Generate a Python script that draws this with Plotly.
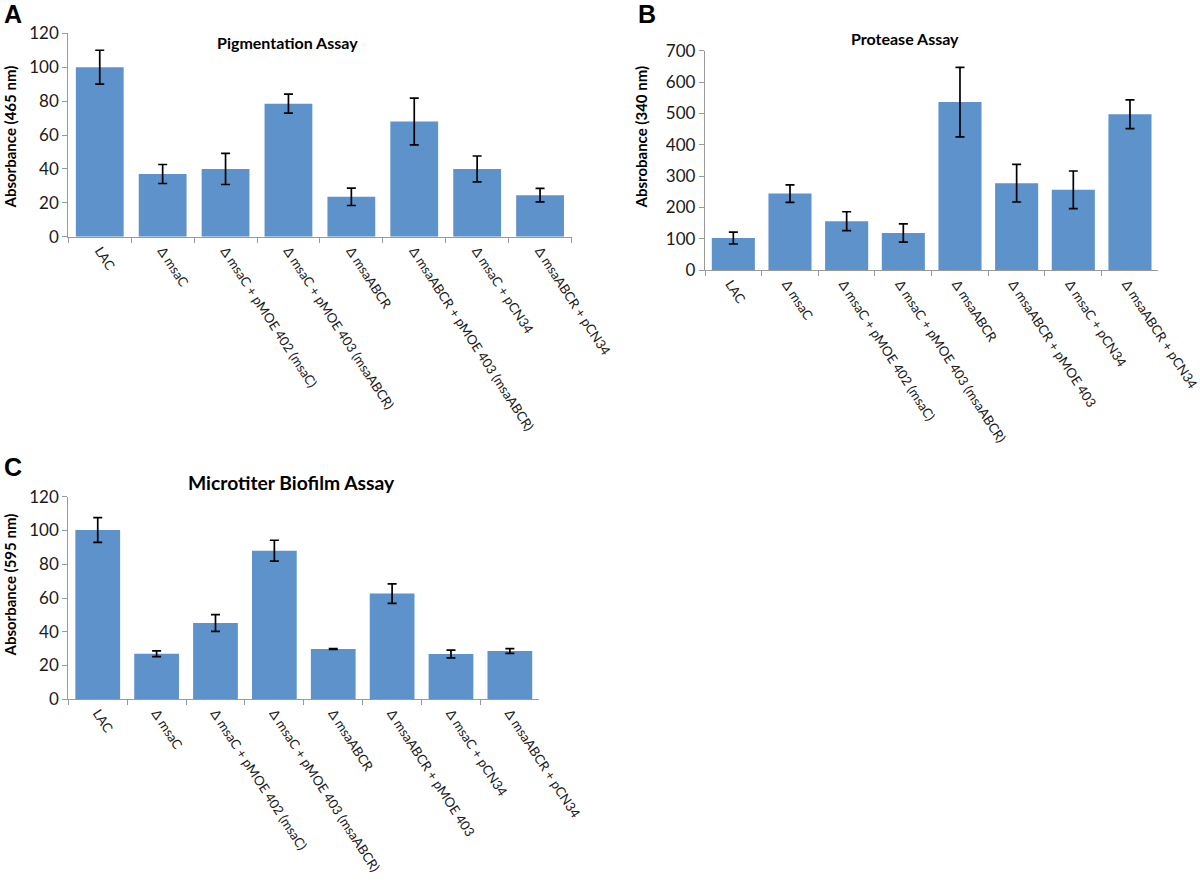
import plotly.graph_objects as go

# ---- data ----
labels_a = ["LAC", "Δ msaC", "Δ msaC + pMOE 402 (msaC)", "Δ msaC + pMOE 403 (msaABCR)",
            "Δ msaABCR", "Δ msaABCR + pMOE 403 (msaABCR)", "Δ msaC + pCN34", "Δ msaABCR + pCN34"]
labels_bc = ["LAC", "Δ msaC", "Δ msaC + pMOE 402 (msaC)", "Δ msaC + pMOE 403 (msaABCR)",
             "Δ msaABCR", "Δ msaABCR + pMOE 403", "Δ msaC + pCN34", "Δ msaABCR + pCN34"]

pigment_vals = [100, 37, 40, 78.5, 23.5, 68, 40, 24.5]
pigment_err = [10, 5.6, 9.2, 5.6, 5.1, 13.8, 7.6, 4.0]

protease_vals = [102, 244, 156, 118, 536, 277, 256, 497]
protease_err = [19, 28, 30, 29, 111, 60, 60, 46]

biofilm_vals = [100.3, 27, 45.2, 88, 29.8, 62.6, 26.8, 28.6]
biofilm_err = [7.3, 1.7, 5.0, 6.2, 0.3, 5.8, 2.3, 1.4]

W, H = 1200, 892
BAR = "#5D92CA"
FONT = "Lato"
AXC = "#9a9a9a"

def px(x):
    return x / W

def py(y):
    return 1 - y / H

fig = go.Figure()

panels = [
    ("x", "y", labels_a, pigment_vals, pigment_err),
    ("x2", "y2", labels_bc, protease_vals, protease_err),
    ("x3", "y3", labels_bc, biofilm_vals, biofilm_err),
]
for xa, ya, lab, vals, err in panels:
    fig.add_trace(go.Bar(
        x=lab, y=vals, xaxis=xa, yaxis=ya, marker_color=BAR, marker_line_width=0,
        error_y=dict(type="data", array=err, visible=True, color="black", thickness=1.7, width=4.5),
        showlegend=False, hoverinfo="skip",
    ))

def xaxis_cfg(x0, x1, anchor, shift=0):
    return dict(domain=[px(x0), px(x1)], anchor=anchor, showline=True, linecolor=AXC, linewidth=1.3,
                ticks="outside", tickson="boundaries", ticklen=5, tickcolor=AXC, automargin=False,
                tickangle=57, tickfont=dict(family=FONT, size=13.2, color="#1a1a1a"),
                ticklabelshift=shift, showgrid=False, zeroline=False)

def yaxis_cfg(top, bottom, rng, dtick, anchor):
    return dict(domain=[py(bottom), py(top)], anchor=anchor, range=rng, dtick=dtick,
                showline=True, linecolor=AXC, linewidth=1.3, ticks="outside", ticklen=5,
                tickcolor=AXC, tickfont=dict(family=FONT, size=17, color="#1a1a1a"), automargin=False,
                showgrid=False, zeroline=False)

fig.update_layout(
    width=W, height=H, margin=dict(l=0, r=0, t=0, b=0),
    plot_bgcolor="white", paper_bgcolor="white", bargap=0.24,
    xaxis=xaxis_cfg(68.3, 571.5, "y"),
    yaxis=yaxis_cfg(33.3, 236.7, [0, 120], 20, "x"),
    xaxis2=xaxis_cfg(705, 1158.3, "y2", shift=-3),
    yaxis2=yaxis_cfg(50.7, 270, [0, 700], 100, "x2"),
    xaxis3=xaxis_cfg(68.3, 539.3, "y3"),
    yaxis3=yaxis_cfg(496.7, 699.3, [0, 120], 20, "x3"),
)

ann = []
def text(x, y, t, size, bold=True, angle=0, family=FONT, xanchor="center"):
    ann.append(dict(x=px(x), y=py(y), xref="paper", yref="paper", text=("<b>%s</b>" % t) if bold else t,
                    showarrow=False, textangle=angle, xanchor=xanchor, yanchor="middle",
                    font=dict(family=family, size=size, color="black")))

text(287, 42, "Pigmentation Assay", 16)
text(905, 39, "Protease Assay", 16)
text(291.5, 483, "Microtiter Biofilm Assay", 19.3)
text(9.5, 137, "Absorbance (465 nm)", 15, angle=-90)
text(641, 137.5, "Absrobance (340 nm)", 15, angle=-90)
text(9.5, 585, "Absorbance (595 nm)", 15, angle=-90)
text(2, 14, "A", 25, family="Liberation Sans", xanchor="left")
text(636, 13.5, "B", 25, family="Liberation Sans", xanchor="left")
text(2, 467, "C", 25, family="Liberation Sans", xanchor="left")
fig.update_layout(annotations=ann)

fig.write_html("out.html", config={"displayModeBar": False},
               post_script="document.body.style.margin='0';document.body.style.overflow='hidden';")
